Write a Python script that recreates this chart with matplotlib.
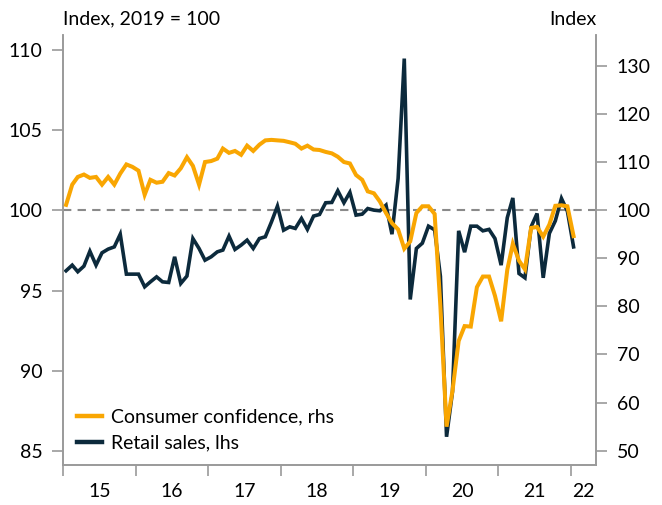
import matplotlib
matplotlib.use("Agg")
import matplotlib.pyplot as plt
import matplotlib.dates as mdates
import pandas as pd
import numpy as np

# ---- data ----
dates = pd.date_range("2015-01-01", periods=85, freq="MS") + pd.Timedelta(days=14)

retail_sales = [
    96.24, 96.59, 96.18, 96.53, 97.46, 96.59, 97.36, 97.59, 97.73, 98.52,
    96.03, 96.03, 96.03, 95.24, 95.55, 95.86, 95.55, 95.51, 97.11, 95.45,
    95.91, 98.25, 97.63, 96.90, 97.11, 97.42, 97.53, 98.40, 97.57, 97.84,
    98.15, 97.63, 98.25, 98.36, 99.29, 100.27, 98.77, 98.98, 98.88, 99.50,
    98.82, 99.65, 99.75, 100.48, 100.50, 101.23, 100.48, 101.13, 99.71, 99.77,
    100.12, 100.02, 99.98, 100.33, 98.52, 101.99, 109.47, 94.45, 97.63, 97.96,
    99.02, 98.79, 95.90, 85.89, 88.70, 98.73, 97.40, 99.02, 99.02, 98.73,
    98.82, 98.25, 96.59, 99.55, 100.78, 96.07, 95.80, 98.98, 99.81, 95.80,
    98.57, 99.35, 100.75, 99.95, 97.73,
]

consumer_confidence = [
    101.1, 105.3, 106.9, 107.4, 106.7, 106.9, 105.3, 106.9, 105.3, 107.6,
    109.5, 109.0, 108.2, 103.2, 106.3, 105.7, 105.9, 107.7, 107.2, 108.7,
    111.0, 109.2, 105.3, 110.0, 110.2, 110.7, 112.8, 111.9, 112.3, 111.5,
    113.4, 112.3, 113.6, 114.5, 114.6, 114.5, 114.4, 114.1, 113.8, 112.8,
    113.4, 112.6, 112.5, 112.1, 111.8, 111.1, 110.0, 109.7, 107.3, 106.3,
    103.9, 103.5, 101.8, 99.4, 97.3, 96.0, 92.0, 93.5, 99.4, 100.8,
    100.8, 99.2, 80.0, 55.0, 62.5, 72.8, 75.9, 75.8, 84.0, 86.2,
    86.2, 82.2, 76.9, 87.6, 93.0, 89.5, 87.7, 96.3, 96.5, 94.5,
    97.0, 100.9, 101.0, 100.8, 94.6,
]

year_labels = ["15", "16", "17", "18", "19", "20", "21", "22"]
left_ticks = [85, 90, 95, 100, 105, 110]
right_ticks = [50, 60, 70, 80, 90, 100, 110, 120, 130]

# ---- style ----
FONT = "Lato"
plt.rcParams["font.family"] = [FONT, "DejaVu Sans"]
FS = 14
ORANGE = "#F9A602"
NAVY = "#0C2A3C"
GREY = "#9A9A9A"

fig = plt.figure(figsize=(6.62, 5.05), dpi=100)
ax = fig.add_axes([0.0956, 0.0792, 0.8047, 0.8515])
ax2 = ax.twinx()

ax.axhline(100, color="#8A8A8A", lw=1.5, ls=(0, (4, 3)), zorder=1)
l_ret, = ax.plot(dates, retail_sales, color=NAVY, lw=2.6, solid_joinstyle="miter", zorder=2)
l_cc, = ax2.plot(dates, consumer_confidence, color=ORANGE, lw=2.9, solid_joinstyle="miter", zorder=3)

ax.set_ylim(84.13, 110.94)
ax2.set_ylim(47.03, 136.4)
ax.set_yticks(left_ticks)
ax2.set_yticks(right_ticks)

x0 = pd.Timestamp("2015-01-01")
x1 = pd.Timestamp("2022-05-08")
ax.set_xlim(x0, x1)

major = [pd.Timestamp(f"{y}-01-01") for y in range(2015, 2023)]
label_pos = [pd.Timestamp(f"{y}-07-02") for y in range(2015, 2022)] + [pd.Timestamp("2022-03-05")]
ax.set_xticks(major)
ax.set_xticklabels([])
ax.set_xticks(label_pos, minor=True)
ax.set_xticklabels(year_labels, minor=True)

for a in (ax, ax2):
    for s in a.spines.values():
        s.set_color(GREY)
        s.set_linewidth(1.2)
    a.spines["top"].set_visible(False)

ax.tick_params(axis="x", which="major", length=8, width=1.2, color=GREY, direction="out")
ax.tick_params(axis="x", which="minor", length=0, pad=13, labelsize=FS, labelcolor="black")
ax.tick_params(axis="y", length=8, width=1.2, color=GREY, pad=7, labelsize=FS, labelcolor="black")
ax2.tick_params(axis="y", length=8, width=1.2, color=GREY, pad=7, labelsize=FS, labelcolor="black")

fig.text(0.0956, 0.962, "Index, 2019 = 100", ha="left", va="center", fontsize=FS)
fig.text(0.9015, 0.962, "Index", ha="right", va="center", fontsize=FS)

leg = ax2.legend([l_cc, l_ret], ["Consumer confidence, rhs", "Retail sales, lhs"],
                 loc="lower left", bbox_to_anchor=(0.0, 0.0), frameon=False,
                 fontsize=FS, handlelength=1.3, handletextpad=0.45, labelspacing=0.45,
                 borderaxespad=0.4, borderpad=0.3)
for h in leg.get_lines():
    h.set_linewidth(3.2)

fig.savefig("out.png", dpi=100)
